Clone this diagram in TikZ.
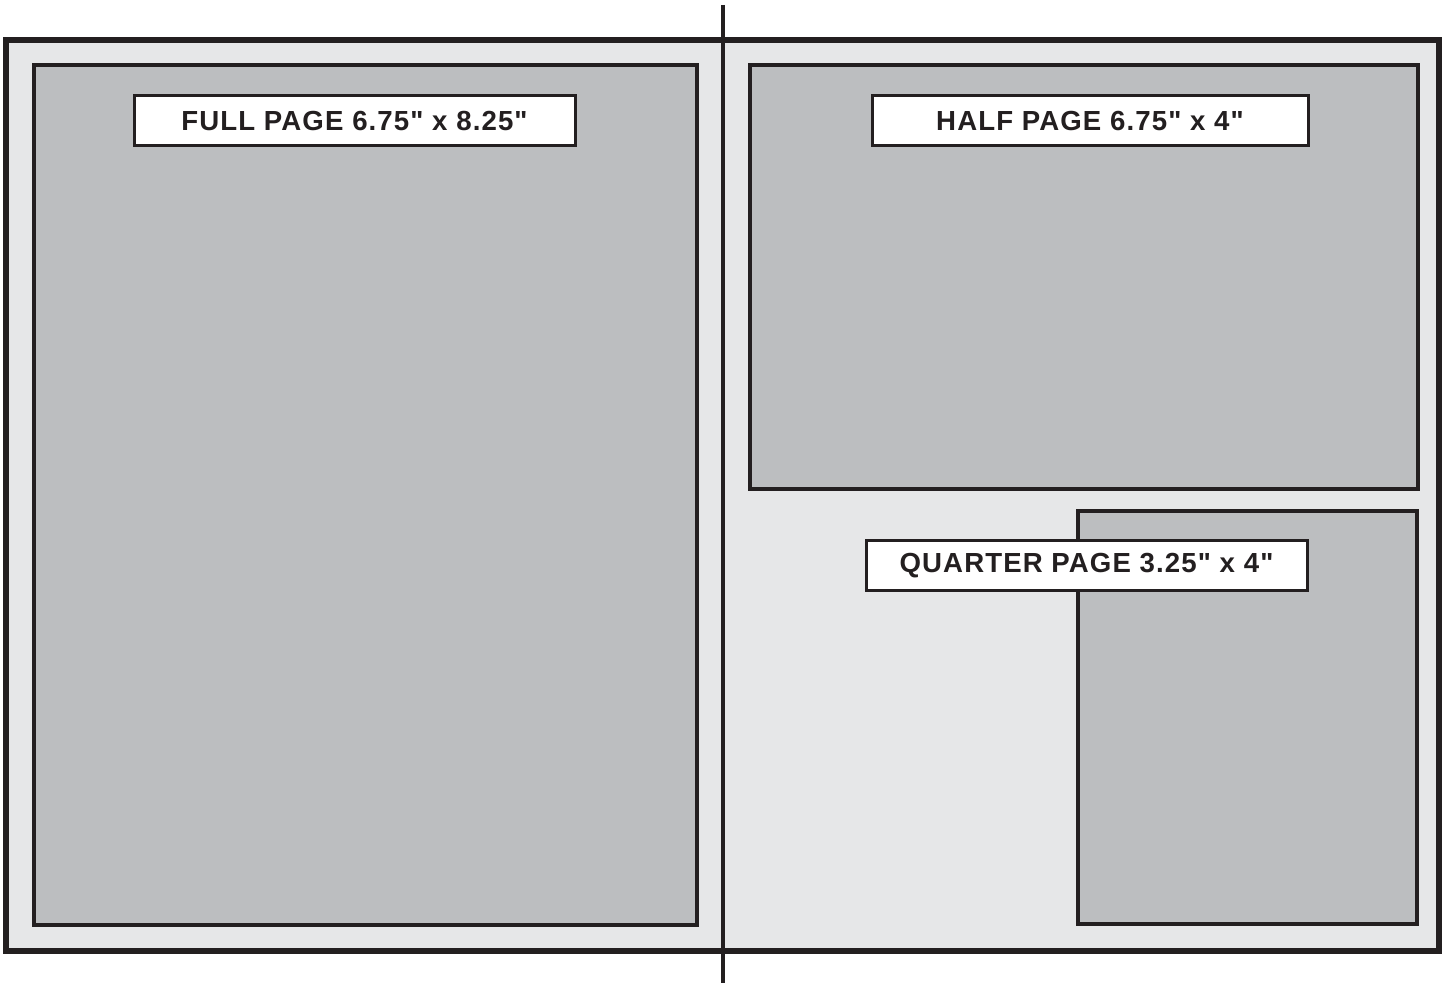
\documentclass[tikz,border=0pt]{standalone}
\usepackage{fontspec}
\setmainfont{Liberation Sans}[Ligatures=TeXOff,LetterSpace=4]
\usepackage{xcolor}
\definecolor{sheet}{HTML}{E6E7E8}
\definecolor{adgray}{HTML}{BCBEC0}
\definecolor{ink}{HTML}{231F20}

\begin{document}
\begin{tikzpicture}[x=0.5pt,y=-0.5pt,
    adbox/.style={draw=ink,fill=adgray,line width=1.8pt},
    sizetag/.style={draw=ink,fill=white,line width=1.5pt,inner sep=0pt,
      minimum height=25pt,font=\bfseries\fontsize{13.8}{16}\selectfont,text=ink}]
      \useasboundingbox (0,0) rectangle (1445,983);
      % spread
      \draw[draw=ink,fill=sheet,line width=3pt] (6,40) rectangle (1439,951);
      % ad spaces
      \draw[adbox] (34,65) rectangle (697,925);
      \draw[adbox] (750,65) rectangle (1418,489);
      \draw[adbox] (1078,511) rectangle (1417,924);
      % gutter
      \coordinate (spinetop) at (723,5);
      \coordinate (spinebot) at (723,983);
      \draw[ink,line width=2pt] (spinetop) -- (spinebot);
      % size labels
      \node[sizetag,minimum width=220.5pt] (full) at (354.5,121) {FULL PAGE 6.75" x 8.25"};
      \node[sizetag,minimum width=218pt] (half) at (1090,121) {HALF PAGE 6.75" x 4"};
      \node[sizetag,minimum width=220.5pt] (quarter) at (1086.5,565.5) {QUARTER PAGE 3.25" x 4"};
    \end{tikzpicture}
\end{document}
